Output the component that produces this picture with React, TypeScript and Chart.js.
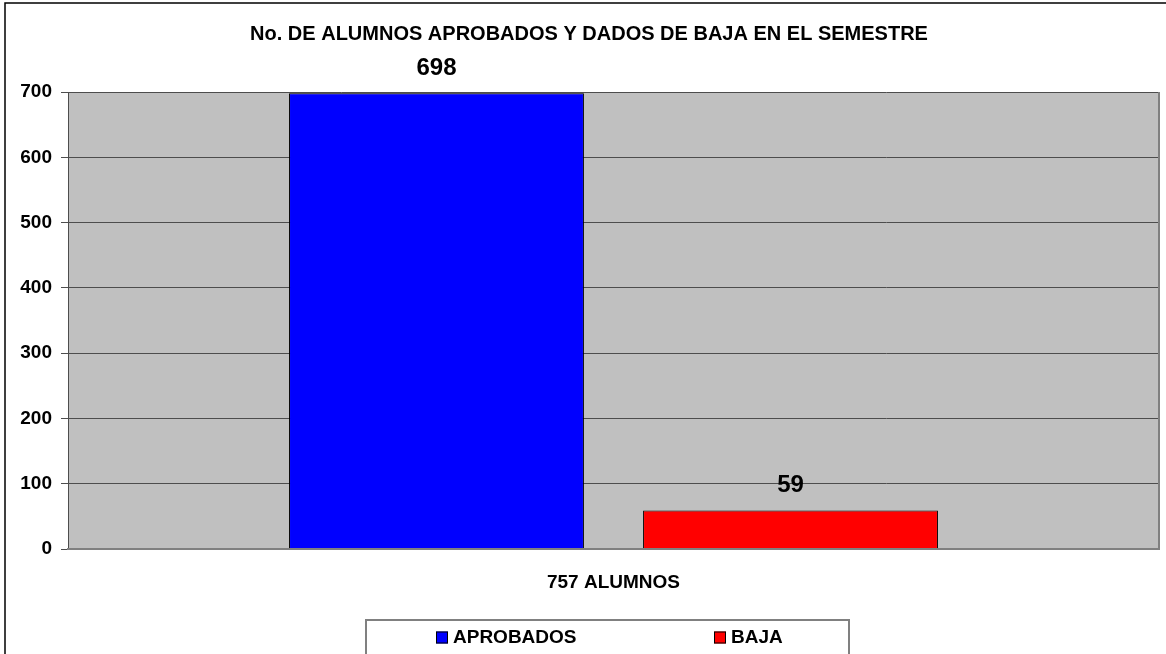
import React, { useEffect, useRef } from "react";
import { Chart, registerables } from "chart.js";

Chart.register(...registerables);

// ---- data ----
const categories = ["757 ALUMNOS"];
const seriesNames = ["APROBADOS", "BAJA"];
const aprobados = [698];
const baja = [59];
const seriesColors = ["#0000FF", "#FF0000"];
const yMin = 0;
const yMax = 700;
const yStep = 100;
const titleText = "No. DE ALUMNOS APROBADOS Y DADOS DE BAJA EN EL SEMESTRE";

const FONT = "'Liberation Sans', Arial, Helvetica, sans-serif";

const decorPlugin = {
  id: "decor",
  beforeDraw(chart: any) {
    const { ctx, chartArea, width, height } = chart;
    ctx.save();
    ctx.fillStyle = "#FFFFFF";
    ctx.fillRect(0, 0, width, height);
    // outer frame
    ctx.strokeStyle = "#000000";
    ctx.lineWidth = 1.5;
    ctx.strokeRect(5, 3, width + 20, height + 20);
    // plot background
    ctx.fillStyle = "#C0C0C0";
    ctx.fillRect(chartArea.left, chartArea.top, chartArea.right - chartArea.left, chartArea.bottom - chartArea.top);
    ctx.restore();
  },
  afterDatasetsDraw(chart: any) {
    const { ctx } = chart;
    ctx.save();
    ctx.font = `bold 24px ${FONT}`;
    ctx.fillStyle = "#000000";
    ctx.textAlign = "center";
    ctx.textBaseline = "middle";
    chart.data.datasets.forEach((ds: any, i: number) => {
      const meta = chart.getDatasetMeta(i);
      meta.data.forEach((bar: any, j: number) => {
        ctx.fillText(String(ds.data[j]), bar.x, bar.y - 25);
      });
    });
    ctx.restore();
  },
  afterDraw(chart: any) {
    const { ctx, chartArea } = chart;
    ctx.save();
    // plot right border
    ctx.strokeStyle = "#808080";
    ctx.lineWidth = 2;
    ctx.beginPath();
    ctx.moveTo(chartArea.right, chartArea.top);
    ctx.lineTo(chartArea.right, chartArea.bottom);
    ctx.lineTo(chartArea.left, chartArea.bottom);
    ctx.stroke();
    // legend box
    const boxLeft = 366;
    const boxRight = 849;
    const boxTop = 620;
    ctx.fillStyle = "#FFFFFF";
    ctx.fillRect(boxLeft, boxTop, boxRight - boxLeft, 60);
    ctx.strokeStyle = "#808080";
    ctx.lineWidth = 2;
    ctx.strokeRect(boxLeft, boxTop, boxRight - boxLeft, 60);
    const itemX = [436, 714];
    const cy = 637.5;
    ctx.font = `bold 19px ${FONT}`;
    ctx.textBaseline = "middle";
    ctx.textAlign = "left";
    chart.data.datasets.forEach((ds: any, i: number) => {
      const x = itemX[i];
      ctx.fillStyle = ds.backgroundColor;
      ctx.fillRect(x, cy - 6, 12, 12);
      ctx.strokeStyle = "#000000";
      ctx.lineWidth = 1;
      ctx.strokeRect(x + 0.5, cy - 5.5, 11, 11);
      ctx.fillStyle = "#000000";
      ctx.fillText(ds.label, x + 17, cy);
    });
    ctx.restore();
  },
};

export default function App() {
  const ref = useRef<HTMLCanvasElement | null>(null);

  useEffect(() => {
    if (!ref.current) return;
    const chart = new Chart(ref.current, {
      type: "bar",
      data: {
        labels: categories,
        datasets: [
          {
            label: seriesNames[0],
            data: aprobados,
            backgroundColor: seriesColors[0],
            borderColor: "#000000",
            borderWidth: 1,
            categoryPercentage: 0.649,
            barPercentage: 0.833,
          },
          {
            label: seriesNames[1],
            data: baja,
            backgroundColor: seriesColors[1],
            borderColor: "#000000",
            borderWidth: 1,
            categoryPercentage: 0.649,
            barPercentage: 0.833,
          },
        ],
      },
      options: {
        responsive: false,
        animation: false,
        layout: { padding: { left: 19, right: 7, top: 0, bottom: 65 } },
        plugins: {
          legend: { display: false },
          tooltip: { enabled: false },
          title: {
            display: true,
            text: titleText,
            color: "#000000",
            font: { family: FONT, size: 20, weight: "bold", lineHeight: 1.2 },
            padding: { top: 22.5, bottom: 45.5 },
          },
        },
        scales: {
          x: {
            grid: { display: false, drawTicks: false },
            border: { display: true, color: "#808080", width: 2 },
            ticks: {
              color: "#000000",
              font: { family: FONT, size: 19, weight: "bold", lineHeight: 1.2 },
              padding: 22,
            },
            afterFit: (scale: any) => {
              scale.height = 40;
            },
          },
          y: {
            min: yMin,
            max: yMax,
            ticks: {
              stepSize: yStep,
              color: "#000000",
              font: { family: FONT, size: 19, weight: "bold" },
              padding: 9,
            },
            grid: { color: "#4d4d4d", lineWidth: 1, drawTicks: true, tickLength: 7, tickColor: "#4d4d4d" },
            border: { display: true, color: "#4d4d4d", width: 1 },
            afterFit: (scale: any) => {
              scale.width = 49;
            },
          },
        },
      },
      plugins: [decorPlugin],
    });
    return () => chart.destroy();
  }, []);

  return (
    <div style={{ position: "fixed", left: 0, top: 0, width: 1166, height: 654, overflow: "hidden", background: "#fff" }}>
      <canvas ref={ref} width={1166} height={654} style={{ display: "block" }} />
    </div>
  );
}
